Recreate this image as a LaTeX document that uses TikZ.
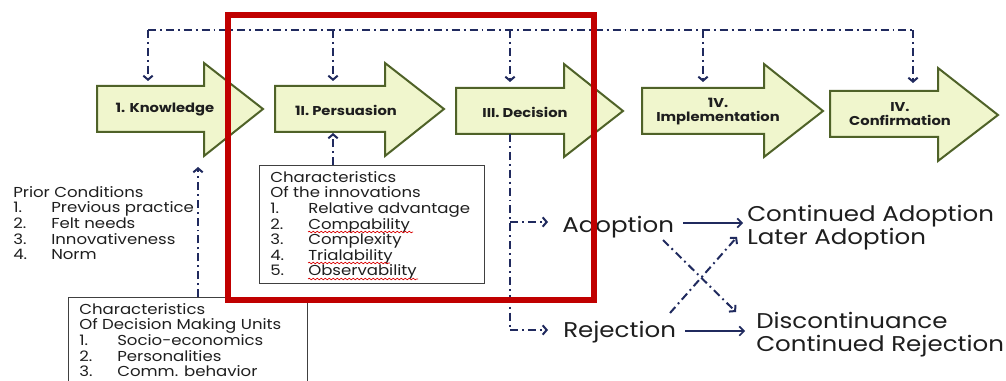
\documentclass[tikz,border=0pt]{standalone}
\usepackage{fontspec}
\setmainfont{Poppins}[FakeStretch=1.15]
\usetikzlibrary{arrows.meta,decorations.pathmorphing}
\definecolor{stagefill}{RGB}{240,246,205}
\definecolor{stageline}{RGB}{79,98,40}
\definecolor{navy}{RGB}{32,42,94}
\definecolor{framered}{RGB}{192,0,0}
\definecolor{ink}{RGB}{30,30,30}
\begin{document}
\begin{tikzpicture}[x=0.75pt,y=-0.75pt,
  stage/.style={draw=stageline,fill=stagefill,line width=1.5pt,line join=miter},
  stagelabel/.style={font=\bfseries\fontsize{9.6}{10.5}\selectfont,text=ink,align=center,inner sep=0pt},
  body/.style={font=\fontsize{10.8}{11.7}\selectfont,text=ink,align=left,inner sep=0pt,anchor=north west},
  big/.style={font=\fontsize{16}{17.3}\selectfont,text=ink,align=left,inner sep=0pt},
  dashdot/.style={draw=navy,line width=1.5pt,dash pattern=on 6pt off 3pt on 1.4pt off 3pt},
  tipped/.style={-{Straight Barb[length=3pt,width=7pt]}},
  solidarrow/.style={draw=navy,line width=1.2pt,-{Straight Barb[length=3.5pt,width=7pt]}},
  charbox/.style={draw=black!75,line width=0.8pt,inner sep=0pt,anchor=north west},
  squiggle/.style={draw=red!85!black,line width=0.5pt,decorate,decoration={snake,segment length=3pt,amplitude=0.6pt}},
  frame/.style={draw=framered,line width=3.8pt}]
\useasboundingbox (0,0) rectangle (1006,381);
\clip (0,0) rectangle (1006,381);

% the five stages
\draw[stage] (97,86) -- (204,86) -- (204,63) -- (263,109) -- (204,156) -- (204,132) -- (97,132) -- cycle;
\draw[stage] (275,86) -- (385,86) -- (385,63) -- (444,109) -- (385,156) -- (385,132) -- (275,132) -- cycle;
\draw[stage] (456,88) -- (564,88) -- (564,64) -- (623,111) -- (564,157) -- (564,134) -- (456,134) -- cycle;
\draw[stage] (642,88) -- (764,88) -- (764,64) -- (823,111) -- (764,157) -- (764,134) -- (642,134) -- cycle;
\draw[stage] (830,91) -- (938,91) -- (938,68) -- (998,115) -- (938,161) -- (938,137) -- (830,137) -- cycle;
\node[stagelabel] (know) at (165,110) {1. Knowledge};
\node[stagelabel] (pers) at (346,110) {1I. Persuasion};
\node[stagelabel] (deci) at (525,112) {III. Decision};
\node[stagelabel] (impl) at (718,112) {1V.\\Implementation};
\node[stagelabel] (conf) at (900,114) {IV.\\Confirmation};

% feedback bus over the stages
\coordinate (bus1) at (148,30);
\coordinate (bus2) at (333,30);
\coordinate (bus3) at (510,30);
\coordinate (bus4) at (703,30);
\coordinate (bus5) at (913,30);
\coordinate (knowin) at (148,81);
\coordinate (persin) at (333,81);
\coordinate (deciin) at (510,82);
\coordinate (implin) at (703,82);
\coordinate (confin) at (913,83);
\draw[dashdot] (bus1) -- (bus5);
\draw[dashdot,tipped] (bus1) -- (knowin);
\draw[dashdot,tipped] (bus2) -- (persin);
\draw[dashdot,tipped] (bus3) -- (deciin);
\draw[dashdot,tipped] (bus4) -- (implin);
\draw[dashdot,tipped] (bus5) -- (confin);

% prior conditions
\node[body] (prior) at (13,186) {Prior Conditions\\
  \makebox[28.5pt][l]{1.}Previous practice\\
  \makebox[28.5pt][l]{2.}Felt needs\\
  \makebox[28.5pt][l]{3.}Innovativeness\\
  \makebox[28.5pt][l]{4.}Norm};

% characteristics of the innovations
\node[charbox,minimum width=168.75pt,minimum height=88.5pt] (innov) at (259,165) {};
\node[body] (innovtext) at (270,171) {Characteristics\\
  Of the innovations\\
  \makebox[28.5pt][l]{1.}Relative advantage\\
  \makebox[28.5pt][l]{2.}Compability\\
  \makebox[28.5pt][l]{3.}Complexity\\
  \makebox[28.5pt][l]{4.}Trialability\\
  \makebox[28.5pt][l]{5.}Observability};
\draw[squiggle] (308,232) -- (413,232);
\draw[squiggle] (308,263) -- (390,263);
\draw[squiggle] (308,279) -- (418,279);
\coordinate (persout) at (333,133);
\draw[dashdot,tipped] (innov.north -| persout) -- (persout);

% characteristics of decision making units
\node[charbox,minimum width=179.25pt,minimum height=75pt] (dmu) at (68,297) {};
\node[body] (dmutext) at (79,303) {Characteristics\\
  Of Decision Making Units\\
  \makebox[28.5pt][l]{1.}Socio-economics\\
  \makebox[28.5pt][l]{2.}Personalities\\
  \makebox[28.5pt][l]{3.}Comm. behavior};
\coordinate (knowout) at (198,167);
\draw[dashdot,tipped] (dmu.north -| knowout) -- (knowout);

% outcomes of the decision
\node[big,anchor=base west] (adopt) at (562,232) {Adoption};
\node[big,anchor=base west] (reject) at (563,337) {Rejection};
\node[big,anchor=north west] (cont) at (747,205) {Continued Adoption\\Later Adoption};
\node[big,anchor=north west] (disc) at (756,312) {Discontinuance\\Continued Rejection};
\coordinate (decout) at (510,134);
\coordinate (split) at (510,222);
\coordinate (bottom) at (510,330);
\coordinate (adoptin) at (548,222);
\coordinate (rejectin) at (548,330);
\draw[dashdot] (decout) -- (bottom);
\draw[dashdot,tipped] (split) -- (adoptin);
\draw[dashdot,tipped] (bottom) -- (rejectin);

\coordinate (adoptend) at (683,223);
\coordinate (contin) at (743,223);
\coordinate (rejectend) at (685,331);
\coordinate (discin) at (745,331);
\draw[solidarrow] (adoptend) -- (contin);
\draw[solidarrow] (rejectend) -- (discin);

\coordinate (crossa) at (663,240);
\coordinate (crossaend) at (736,312);
\coordinate (crossb) at (670,313);
\coordinate (crossbend) at (737,237);
\draw[dashdot,tipped] (crossa) -- (crossaend);
\draw[dashdot,tipped] (crossb) -- (crossbend);

% highlighted region
\draw[frame] (228,15) rectangle (594,300);
\end{tikzpicture}
\end{document}
